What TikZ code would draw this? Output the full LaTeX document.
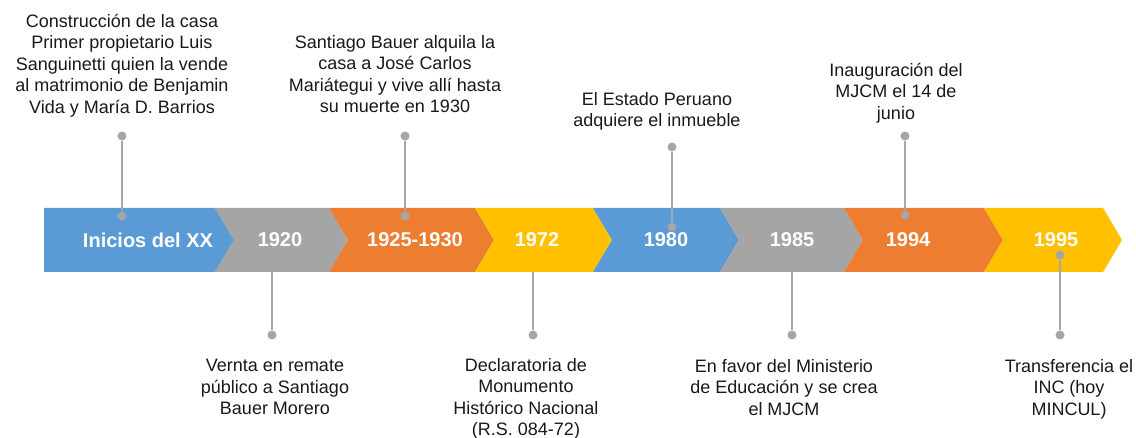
\documentclass[tikz,border=0pt]{standalone}
\usepackage{fontspec}
\setmainfont{Liberation Sans}
\usetikzlibrary{positioning}

\definecolor{tlblue}{HTML}{5B9BD5}
\definecolor{tlgray}{HTML}{A5A5A5}
\definecolor{tlorange}{HTML}{ED7D31}
\definecolor{tlyellow}{HTML}{FFC000}
\definecolor{pingray}{HTML}{A6A6A6}

\tikzset{
  yearlabel/.style={text=white, font=\fontsize{20}{24}\selectfont\bfseries, inner sep=0pt},
  eventtext/.style={align=center, anchor=north, inner sep=0pt, text=black!90,
    font=\fontsize{18}{21.5}\selectfont},
  pindot/.style={circle, fill=pingray, inner sep=0pt, minimum size=9pt},
  pinline/.style={draw=pingray, line width=1.5pt},
}

\begin{document}
\begin{tikzpicture}[x=1pt, y=-1pt]
  \useasboundingbox (0,0) rectangle (1136,438);

  % Band limits and tip length
  \def\ytop{208}
  \def\ybot{272}
  \def\ymid{240}
  \def\tip{19}

  % Pins below the band (drawn first, band covers their upper end)
  \coordinate (b1) at (272,\ybot);
  \node[pindot] (a1) at (272,335) {};
  \draw[pinline] (b1) -- (a1);
  \coordinate (b3) at (533,\ybot);
  \node[pindot] (a3) at (533,335) {};
  \draw[pinline] (b3) -- (a3);
  \coordinate (b5) at (792,\ybot);
  \node[pindot] (a5) at (792,335) {};
  \draw[pinline] (b5) -- (a5);

  % First arrow, flat left end
  \fill[tlblue] (44,\ytop) -- (234-\tip,\ytop) -- (234,\ymid) -- (234-\tip,\ybot) -- (44,\ybot) -- cycle;

  % Remaining arrows, notched into the previous tip
  \foreach \prev/\t/\c in {234/348/tlgray, 348/494/tlorange, 494/612/tlyellow, 612/739/tlblue,
                           739/863/tlgray, 863/1003/tlorange, 1003/1122/tlyellow}
    \fill[\c] (\prev-\tip,\ytop) -- (\t-\tip,\ytop) -- (\t,\ymid) -- (\t-\tip,\ybot)
      -- (\prev-\tip,\ybot) -- (\prev,\ymid) -- cycle;

  % Year labels
  \node[yearlabel] (y0) at (148,\ymid) {Inicios del XX};
  \node[yearlabel] (y1) at (280,\ymid) {1920};
  \node[yearlabel] (y2) at (415,\ymid) {1925-1930};
  \node[yearlabel] (y3) at (537,\ymid) {1972};
  \node[yearlabel] (y4) at (666,\ymid) {1980};
  \node[yearlabel] (y5) at (792,\ymid) {1985};
  \node[yearlabel] (y6) at (908,\ymid) {1994};
  \node[yearlabel] (y7) at (1056,\ymid) {1995};

  % Pins above the band
  \node[pindot] (a0) at (122,136) {};
  \node[pindot] (b0) at (122,216) {};
  \draw[pinline] (a0) -- (b0);
  \node[pindot] (a2) at (405,136) {};
  \node[pindot] (b2) at (405,216) {};
  \draw[pinline] (a2) -- (b2);
  \node[pindot] (a4) at (672,147) {};
  \node[pindot] (b4) at (672,227) {};
  \draw[pinline] (a4) -- (b4);
  \node[pindot] (a6) at (905,136) {};
  \node[pindot] (b6) at (905,215) {};
  \draw[pinline] (a6) -- (b6);

  % Last pin, starts inside the band
  \node[pindot] (b7) at (1060,255) {};
  \node[pindot] (a7) at (1060,335) {};
  \draw[pinline] (b7) -- (a7);

  % Event texts
  \node[eventtext] (e0) at (122,14) {Construcción de la casa\\Primer propietario Luis\\Sanguinetti quien la vende\\al matrimonio de Benjamin\\Vida y María D. Barrios};
  \node[eventtext] (e2) at (395,35) {Santiago Bauer alquila la\\casa a José Carlos\\Mariátegui y vive allí hasta\\su muerte en 1930};
  \node[eventtext] (e4) at (657,92) {El Estado Peruano\\adquiere el inmueble};
  \node[eventtext] (e6) at (896,63) {Inauguración del\\MJCM el 14 de\\junio};
  \node[eventtext] (e1) at (275,359) {Vernta en remate\\público a Santiago\\Bauer Morero};
  \node[eventtext] (e3) at (526,358) {Declaratoria de\\Monumento\\Histórico Nacional\\(R.S. 084-72)};
  \node[eventtext] (e5) at (784,359) {En favor del Ministerio\\de Educación y se crea\\el MJCM};
  \node[eventtext] (e7) at (1069,359) {Transferencia el\\INC (hoy\\MINCUL)};
\end{tikzpicture}
\end{document}
